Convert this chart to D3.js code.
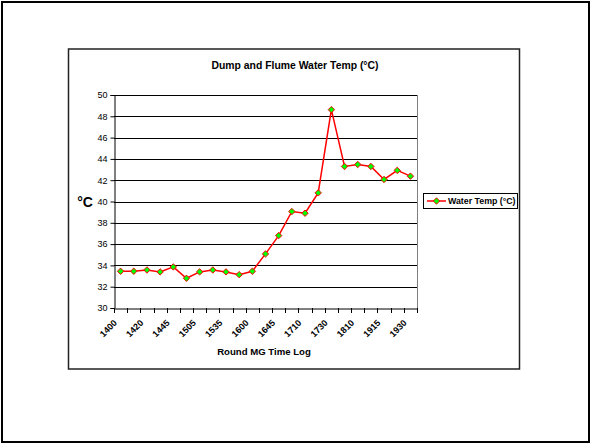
<!DOCTYPE html>
<html><head><meta charset="utf-8">
<script src="https://cdn.jsdelivr.net/npm/d3@7"></script>
<style>body{margin:0;background:#fff;}svg{display:block;font-family:"Liberation Sans",Arial,sans-serif;}</style>
</head><body>
<svg id="c" width="591" height="444"></svg>
<script>
const categories = ["1400","1410","1420","1430","1445","1455","1505","1520","1535","1545","1600","1615","1645","1700","1710","1720","1730","1745","1810","1900","1915","1920","1930"];
const shownLabels = ["1400","1420","1445","1505","1535","1600","1645","1710","1730","1810","1915","1930"];
const waterTemp = [33.45,33.45,33.57,33.39,33.86,32.79,33.39,33.57,33.39,33.13,33.45,35.08,36.80,39.06,38.90,40.81,48.62,43.29,43.48,43.29,42.07,42.92,42.38];
const yTicks = [30,32,34,36,38,40,42,44,46,48,50];
const title = "Dump and Flume Water Temp (°C)";
const xTitle = "Round MG Time Log";
const yTitle = "°C";
const seriesName = "Water Temp (°C)";

const svg = d3.select("#c");
// outer frame
svg.append("rect").attr("x",2).attr("y",2).attr("width",587).attr("height",440)
  .attr("fill","#fff").attr("stroke","#000").attr("stroke-width",2);
// chart area frame
svg.append("rect").attr("x",68.5).attr("y",49).attr("width",451).attr("height",320)
  .attr("fill","#fff").attr("stroke","#222").attr("stroke-width",1.5);

const L=114, R=417, T=95, B=308;
const x = d3.scaleBand().domain(categories).range([L,R]);
const y = d3.scaleLinear().domain([30,50]).range([B,T]);

// gridlines
svg.append("g").selectAll("line").data(yTicks.filter(v=>v>30)).join("line")
  .attr("x1",L).attr("x2",R).attr("y1",d=>Math.round(y(d))+0.5).attr("y2",d=>Math.round(y(d))+0.5)
  .attr("stroke","#000").attr("stroke-width",1);
// plot area right border
svg.append("line").attr("x1",R+0.5).attr("x2",R+0.5).attr("y1",T).attr("y2",B)
  .attr("stroke","#808080").attr("stroke-width",1);

// y axis
const yAxis = svg.append("g").attr("transform",`translate(${L+0.5},0)`)
  .call(d3.axisLeft(y).tickValues(yTicks).tickSize(4).tickPadding(3));
yAxis.select(".domain").attr("stroke","#000");
yAxis.selectAll(".tick line").attr("stroke","#000");
yAxis.selectAll("text").attr("font-size",9).attr("font-family","Liberation Sans, Arial, sans-serif").attr("fill","#000");

// x axis
const xAxis = svg.append("g").attr("transform",`translate(0,${B+0.5})`)
  .call(d3.axisBottom(x).tickSize(0).tickFormat(d=>shownLabels.includes(d)?d:""));
xAxis.select(".domain").attr("stroke","#000");
// tick marks at band boundaries
const bounds = categories.map(c=>x(c)).concat([R]);
svg.append("g").selectAll("line").data(bounds).join("line")
  .attr("x1",d=>Math.round(d)+0.5).attr("x2",d=>Math.round(d)+0.5).attr("y1",B).attr("y2",B+5)
  .attr("stroke","#000");
xAxis.selectAll("text")
  .attr("font-size",9).attr("font-weight","bold").attr("font-family","Liberation Sans, Arial, sans-serif").attr("fill","#000")
  .attr("text-anchor","end").attr("dy",null).attr("y",0)
  .attr("transform","translate(-3,15) rotate(-45)");

// line
const line = d3.line().x((d,i)=>x(categories[i])+x.bandwidth()/2).y(d=>y(d));
svg.append("path").datum(waterTemp).attr("d",line).attr("fill","none")
  .attr("stroke","#ff0000").attr("stroke-width",1.5);
const diamond = d3.symbol().type(d3.symbolDiamond2 || d3.symbolDiamond).size(26);
svg.append("g").selectAll("path").data(waterTemp).join("path")
  .attr("d",diamond)
  .attr("transform",(d,i)=>`translate(${x(categories[i])+x.bandwidth()/2},${y(d)})`)
  .attr("fill","#00ff00").attr("stroke","#ff0000").attr("stroke-width",1);

// titles
svg.append("text").attr("x",295).attr("y",69).attr("text-anchor","middle")
  .attr("font-size",10.4).attr("font-weight","bold").text(title);
svg.append("text").attr("x",264).attr("y",355).attr("text-anchor","middle")
  .attr("font-size",9.6).attr("font-weight","bold").text(xTitle);
svg.append("text").attr("x",85).attr("y",207).attr("text-anchor","middle")
  .attr("font-size",14).attr("font-weight","bold").text(yTitle);

// legend
svg.append("rect").attr("x",423.5).attr("y",193.5).attr("width",94).attr("height",15)
  .attr("fill","#fff").attr("stroke","#000").attr("stroke-width",1);
svg.append("line").attr("x1",427).attr("x2",446).attr("y1",201).attr("y2",201)
  .attr("stroke","#ff0000").attr("stroke-width",1.5);
svg.append("path").attr("d",diamond).attr("transform","translate(436.5,201)")
  .attr("fill","#00ff00").attr("stroke","#ff0000").attr("stroke-width",1);
svg.append("text").attr("x",448).attr("y",204).attr("font-size",8.8).attr("font-weight","bold").text(seriesName);
</script>
</body></html>
